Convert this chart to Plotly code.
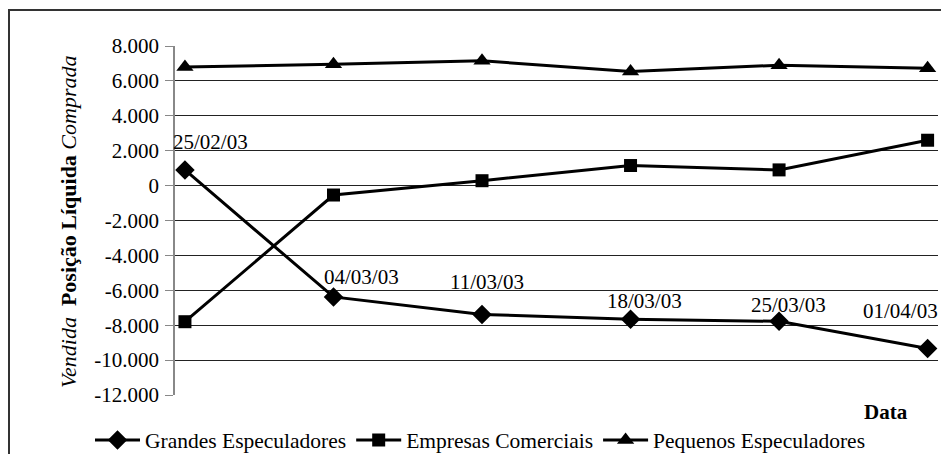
import plotly.graph_objects as go

# Weekly report dates (category axis)
datas = ["25/02/03", "04/03/03", "11/03/03", "18/03/03", "25/03/03", "01/04/03"]

# Net positions (contracts) per trader group
grandes = [900, -6380, -7380, -7660, -7780, -9340]
empresas = [-7800, -540, 280, 1150, 900, 2600]
pequenos = [6800, 6950, 7150, 6540, 6900, 6730]

# Y axis ticks
ytick_vals = [8000, 6000, 4000, 2000, 0, -2000, -4000, -6000, -8000, -10000, -12000]
ytick_text = ["8.000", "6.000", "4.000", "2.000", "0", "-2.000", "-4.000",
              "-6.000", "-8.000", "-10.000", "-12.000"]

FONT = "Liberation Serif"
FS = 21
W, H = 941, 454
L, R, T, B = 175, 3, 46, 59
PW, PH = W - L - R, H - T - B

xs = list(range(len(datas)))

fig = go.Figure()
series = [
    ("Grandes Especuladores", grandes, "diamond", 15),
    ("Empresas Comerciais", empresas, "square", 13),
    ("Pequenos Especuladores", pequenos, "triangle-up", 15),
]
for name, vals, sym, size in series:
    fig.add_trace(go.Scatter(
        x=xs, y=vals, name=name, mode="lines+markers",
        line=dict(color="black", width=3),
        marker=dict(symbol=sym, size=size, color="black"),
    ))

# Date labels next to the "Grandes Especuladores" points
label_dx = [26, 28, 5, 14, 9, -27]
label_dy = [28, 20, 32, 18, 16, 38]
annotations = []
for i, (d, v) in enumerate(zip(datas, grandes)):
    annotations.append(dict(
        x=xs[i], y=v, xref="x", yref="y", text=d, showarrow=False,
        xshift=label_dx[i], yshift=label_dy[i],
        font=dict(family=FONT, size=FS, color="black"),
    ))

# Axis titles
annotations.append(dict(
    x=(68 - L) / PW, y=(T + PH - 222) / PH, xref="paper", yref="paper",
    text="<i>Vendida</i>  <b>Posição Líquida</b> <i>Comprada</i>",
    textangle=-90, showarrow=False, xanchor="center", yanchor="middle",
    font=dict(family=FONT, size=22, color="black"),
))
annotations.append(dict(
    x=(886 - L) / PW, y=-(412 - (T + PH)) / PH, xref="paper", yref="paper",
    text="<b>Data</b>", showarrow=False, xanchor="center", yanchor="middle",
    font=dict(family=FONT, size=FS, color="black"),
))

# Outer frame of the chart
shapes = [dict(
    type="rect", xref="paper", yref="paper",
    x0=(9 - L) / PW, x1=(W + 10 - L) / PW,
    y0=-(H + 10 - (T + PH)) / PH, y1=1 + (T - 10) / PH,
    line=dict(color="#333333", width=2), fillcolor="rgba(0,0,0,0)",
    layer="below",
)]

fig.update_layout(
    width=W, height=H,
    margin=dict(l=L, r=R, t=T, b=B, pad=0, autoexpand=False),
    paper_bgcolor="white", plot_bgcolor="white",
    font=dict(family=FONT, size=FS, color="black"),
    showlegend=True,
    legend=dict(
        orientation="h", x=(90 - L) / PW, xanchor="left",
        y=-(440 - (T + PH)) / PH, yanchor="middle",
        font=dict(family=FONT, size=21.5, color="black"),
        bgcolor="rgba(0,0,0,0)", itemwidth=45, tracegroupgap=0,
    ),
    annotations=annotations,
    shapes=shapes,
)

fig.update_xaxes(
    range=[-0.067, 5.07], showticklabels=False, showgrid=False,
    zeroline=False, showline=False, ticks="",
)
fig.update_yaxes(
    range=[-12000, 8000], tickvals=ytick_vals, ticktext=ytick_text,
    showgrid=True, gridcolor="#222222", gridwidth=1,
    zeroline=False, showline=True, linecolor="#888888", linewidth=1.5,
    ticks="outside", ticklen=8, tickcolor="#888888", tickwidth=1,
    tickfont=dict(family=FONT, size=FS, color="black"),
    ticklabelstandoff=2,
)

fig.write_html("out.html")
